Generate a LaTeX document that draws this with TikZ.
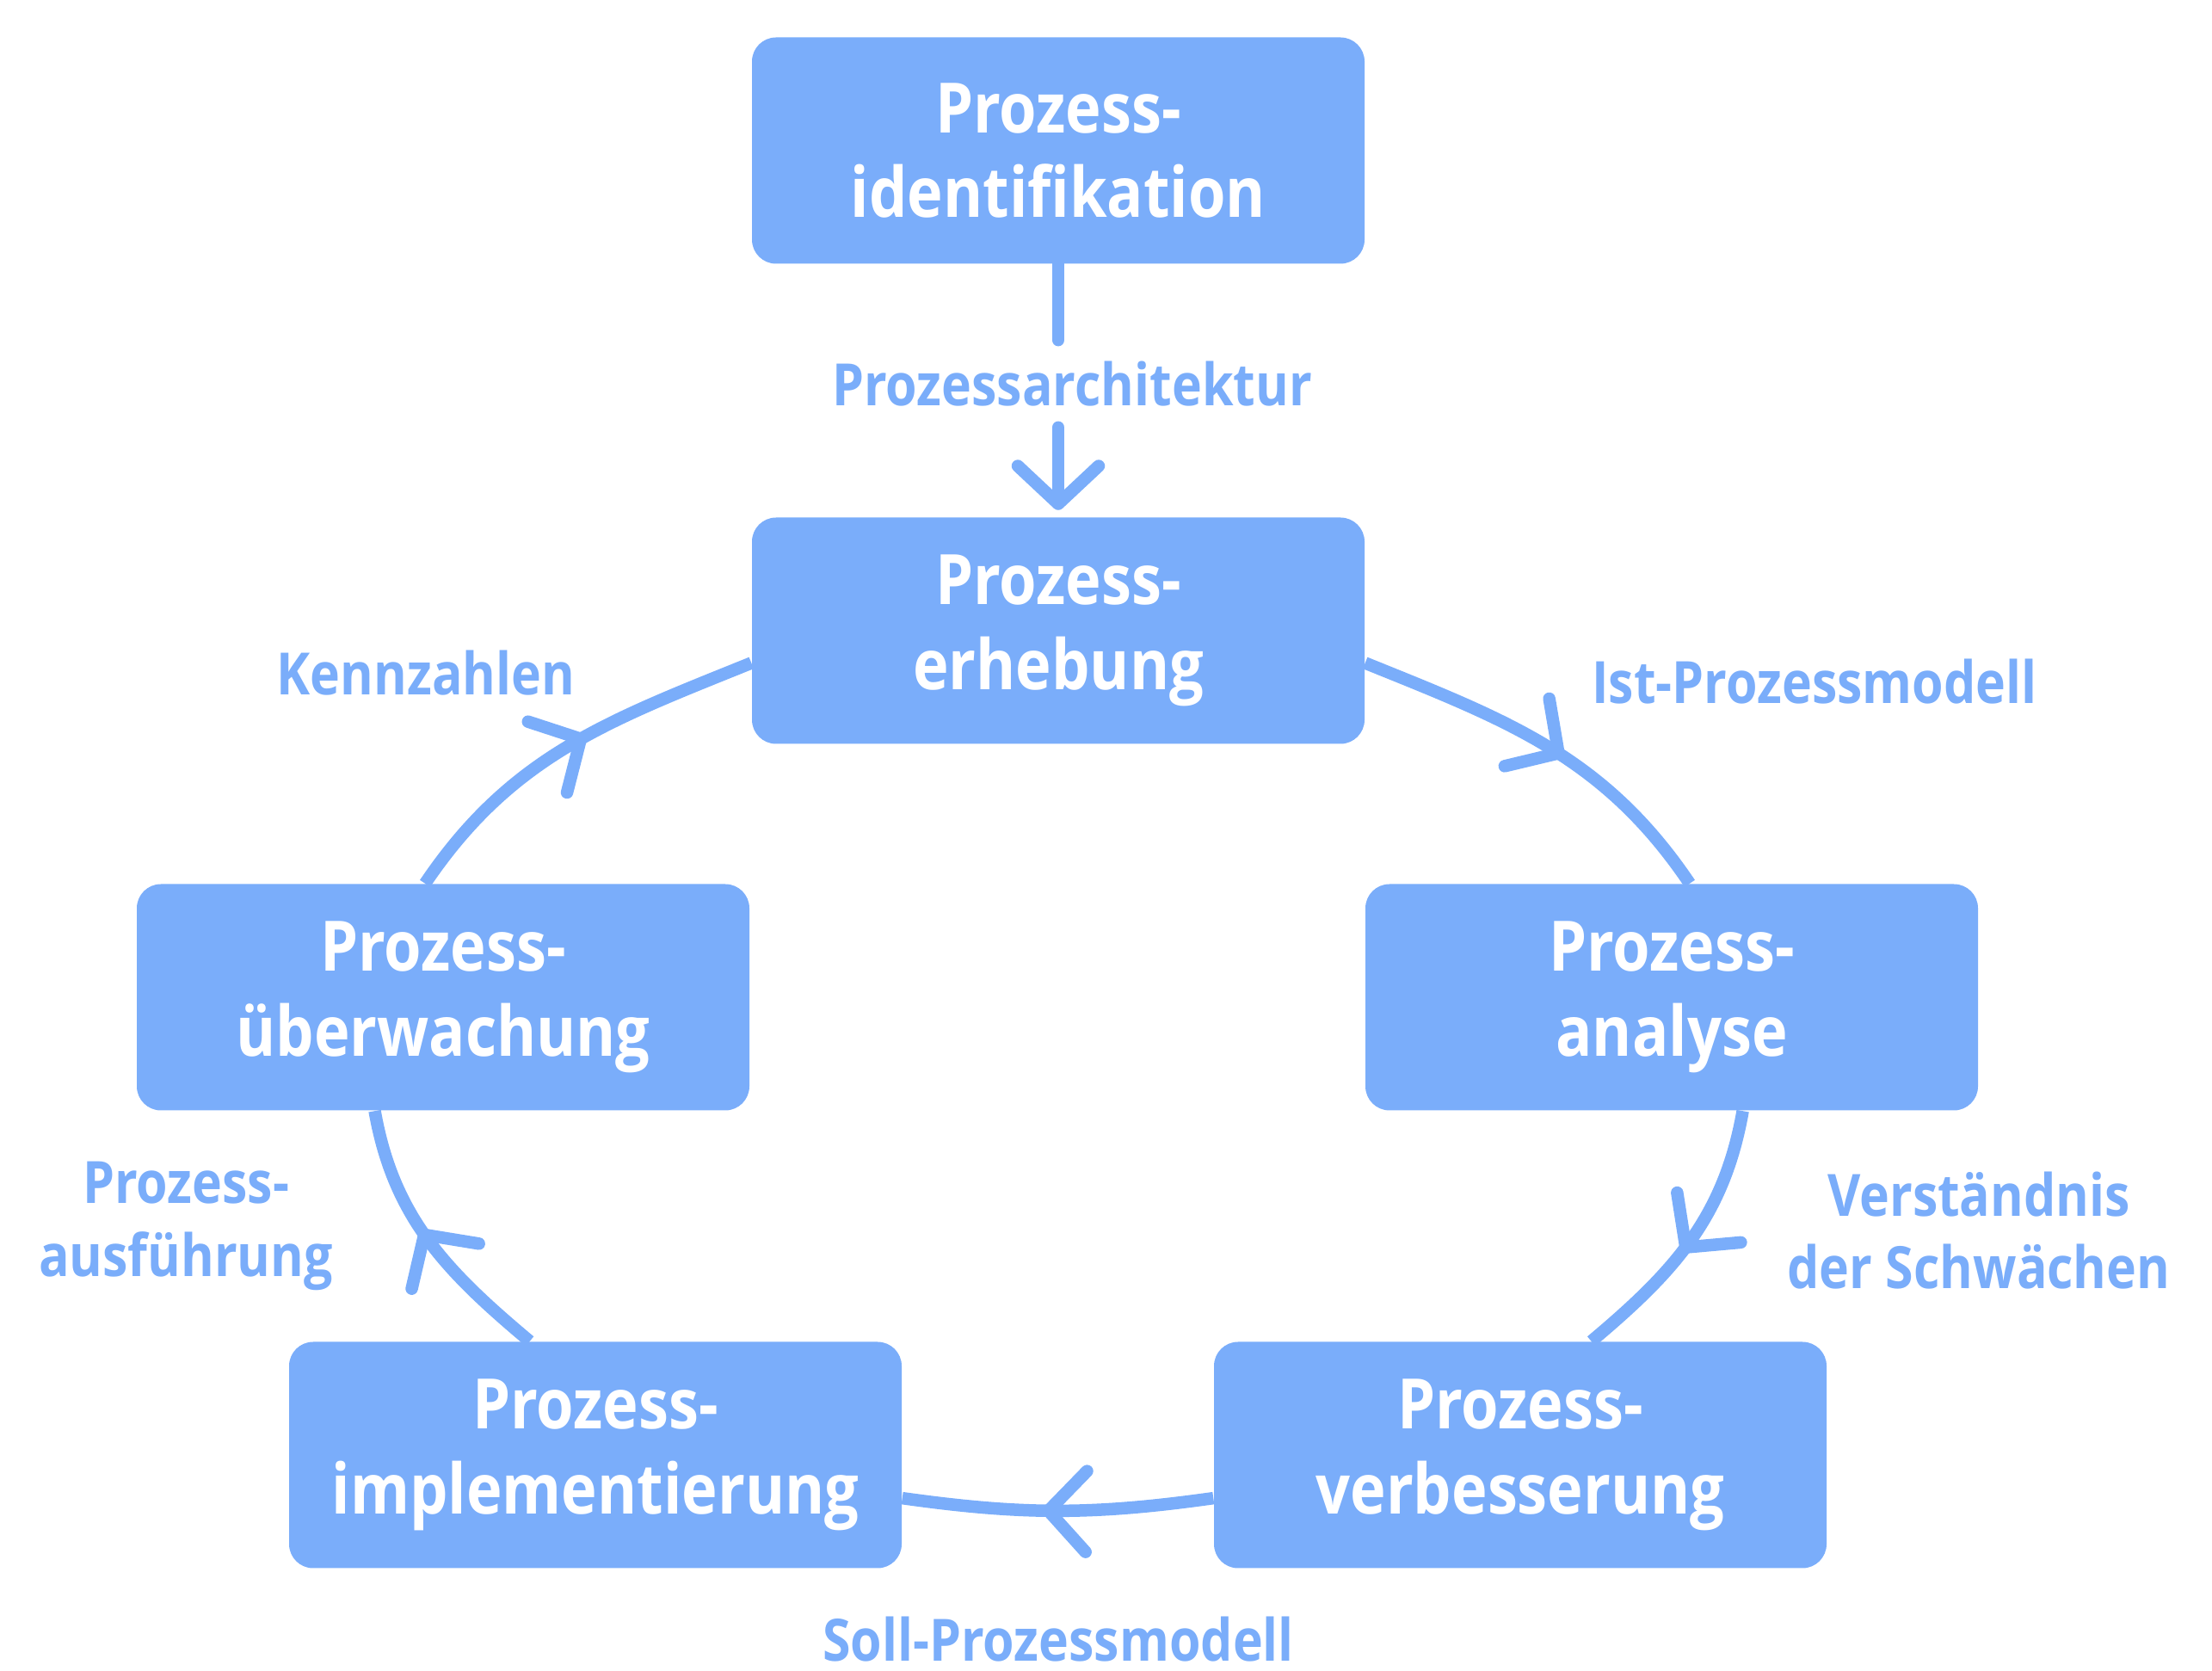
\documentclass[tikz,border=0pt]{standalone}
\usepackage{fontspec}
\setmainfont[FakeStretch=0.87]{Open Sans}
\usepackage{tikz}
\usetikzlibrary{arrows.meta,decorations.markings}
\definecolor{pblue}{RGB}{122,173,250}
\tikzset{barb/.tip={Straight Barb[length=4.4mm,width=9.4mm,line cap=round,line join=round]}}
\tikzstyle{phase}=[rectangle,rounded corners=2.8mm,fill=pblue,draw=none,text=white,align=center,minimum width=7.12cm,minimum height=2.63cm,font=\fontsize{23}{28}\selectfont\bfseries]
\tikzstyle{product}=[text=pblue,align=center,inner sep=0pt,font=\fontsize{19.3}{24}\selectfont\bfseries]
\tikzstyle{flowline}=[-,draw=pblue,line width=1.45mm,line cap=round]
\tikzstyle{flowhead}=[-barb,draw=pblue,line width=1.45mm,line cap=round,shorten >=0.8mm]
\tikzstyle{flow}=[-,draw=pblue,line width=1.45mm,postaction={decorate},decoration={markings,mark=at position .55 with {\arrow{barb}}}]
\pgfdeclarelayer{edgelayer}
\pgfdeclarelayer{nodelayer}
\pgfsetlayers{edgelayer,nodelayer,main}
\begin{document}
\begin{tikzpicture}
	\useasboundingbox (0,0) rectangle (25.71,19.42);
	\begin{pgfonlayer}{nodelayer}
		\node [style=phase] (PI) at (12.30, 17.67) {Prozess-\\identifikation};
		\node [style=phase] (PE) at (12.30, 12.09) {Prozess-\\erhebung};
		\node [style=phase] (PA) at (19.43, 7.83) {Prozess-\\analyse};
		\node [style=phase] (PU) at (5.15, 7.83) {Prozess-\\überwachung};
		\node [style=phase] (PV) at (17.67, 2.51) {Prozess-\\verbesserung};
		\node [style=phase] (PM) at (6.92, 2.51) {Prozess-\\implementierung};
		\node [style=product, inner sep=2.4mm] (arch) at (12.46, 14.96) {Prozessarchitektur};
		\node [style=product] (kpi) at (4.95, 11.60) {Kennzahlen};
		\node [style=product] (ist) at (21.09, 11.50) {Ist-Prozessmodell};
		\node [style=product] (weak) at (23.00, 5.12) {Verständnis\\der Schwächen};
		\node [style=product] (exec) at (2.16, 5.17) {Prozess-\\ausführung};
		\node [style=product] (soll) at (12.30, 0.37) {Soll-Prozessmodell};
	\end{pgfonlayer}
	\begin{pgfonlayer}{edgelayer}
		\draw [style=flowline] (PI.south) to (PI.south |- arch.north);
		\draw [style=flowhead] (PI.south |- arch.south) to (PE.north);
		\draw [style=flow, out=-22, in=124] (PE.-6) to (PA.81);
		\draw [style=flow, out=-100, in=40] (PA.-58) to (PV.58);
		\draw [style=flow, out=188, in=-8] (PV.188) to (PM.-8);
		\draw [style=flow, out=140, in=-80] (PM.120) to (PU.-121);
		\draw [style=flow, out=56, in=-158] (PU.99) to (PE.186);
	\end{pgfonlayer}
\end{tikzpicture}
\end{document}
